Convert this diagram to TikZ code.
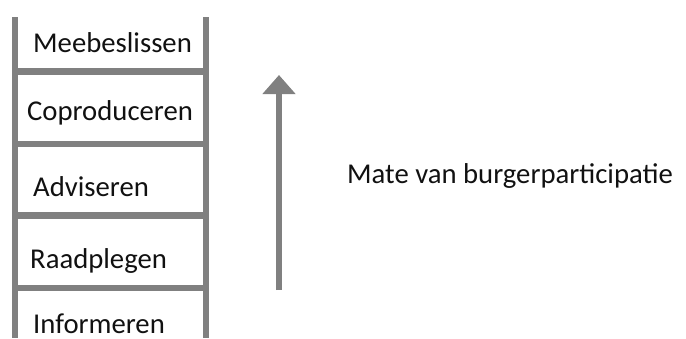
\documentclass[tikz,border=0pt]{standalone}
\usepackage{fontspec}
\setmainfont{Carlito}
\usetikzlibrary{arrows.meta}
\definecolor{ladgray}{HTML}{808080}
\definecolor{txt}{HTML}{111111}
\tikzset{
  rail/.style={draw=ladgray, line width=6.5pt},
  rung/.style={draw=ladgray, line width=6.5pt},
  lbl/.style={anchor=base west, inner sep=0pt, text=txt, font=\fontsize{28.7}{32}\selectfont},
  bigarrow/.style={draw=ladgray, line width=6pt, -{Triangle[width=32pt,length=19pt]}}
}
\begin{document}
\begin{tikzpicture}[x=1pt,y=-1pt]
\useasboundingbox (0,0) rectangle (686,338);
\coordinate (lt) at (15,17);
\coordinate (lb) at (15,338);
\coordinate (rt) at (206,17);
\coordinate (rb) at (206,338);
\draw[rail] (lt) -- (lb);
\draw[rail] (rt) -- (rb);
\foreach \y [count=\i] in {71.5,144,215.5,288}{
  \coordinate (rl\i) at (15,\y);
  \coordinate (rr\i) at (206,\y);
  \draw[rung] (rl\i) -- (rr\i);
}
\node[lbl] (m) at (33,52) {Meebeslissen};
\node[lbl] (c) at (27,120) {Coproduceren};
\node[lbl] (a) at (33,196) {Adviseren};
\node[lbl] (r) at (30,268) {Raadplegen};
\node[lbl] (i) at (33,333) {Informeren};
\coordinate (abot) at (279,290);
\coordinate (atop) at (279,75);
\draw[bigarrow] (abot) -- (atop);
\node[lbl] (t) at (347,183) {Mate van burgerparticipatie};
\end{tikzpicture}
\end{document}
